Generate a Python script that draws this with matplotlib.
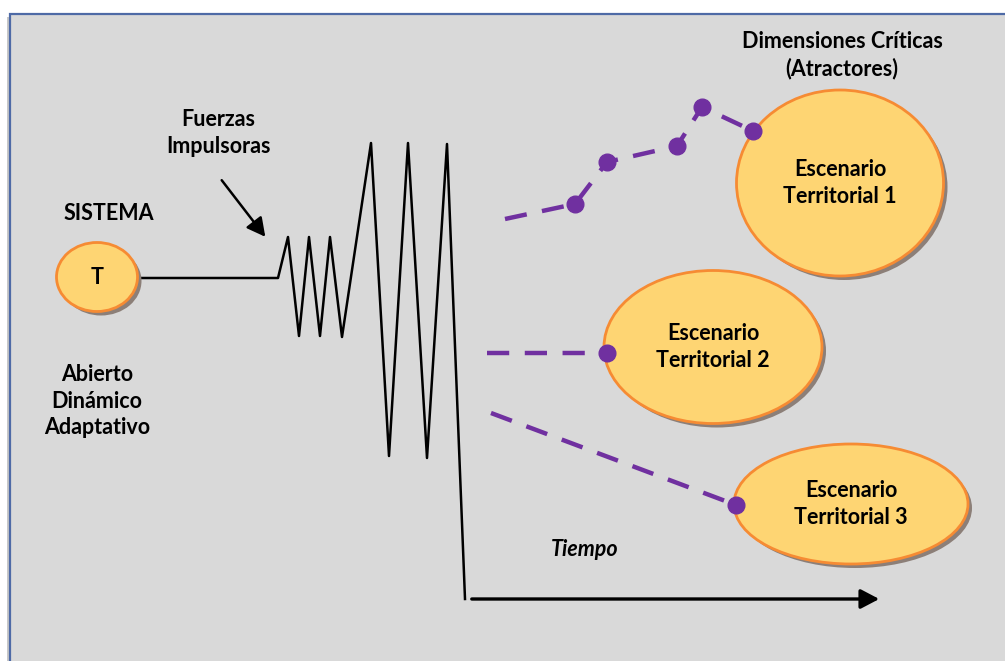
import matplotlib.pyplot as plt
from matplotlib.patches import Ellipse, Rectangle, FancyArrowPatch

plt.rcParams["font.family"] = ["Lato", "DejaVu Sans"]

# --- data (pixel coords of the diagram, y grows downward) ---
W, H = 1005, 661

# zigzag "fuerzas impulsoras" signal
zig_x = [138, 278, 288, 299, 309, 320, 330, 342, 371, 389, 408, 427, 447, 465]
zig_y = [278, 278, 237, 336, 237, 336, 237, 337, 143, 456, 143, 458, 144, 599]

# scenario ellipses: centre x, centre y, width, height, label
esc_cx = [840, 713, 851]
esc_cy = [183, 347, 504]
esc_w = [207, 218, 234]
esc_h = [186, 153, 120]
esc_labels = ["Escenario\nTerritorial 1", "Escenario\nTerritorial 2", "Escenario\nTerritorial 3"]

# purple dashed trajectories towards attractors
tray1_x = [505, 575, 607, 677, 702, 753]
tray1_y = [219, 204, 162, 146, 107, 131]
tray2_x = [487, 607]
tray2_y = [353, 353]
tray3_x = [491, 736]
tray3_y = [413, 505]

purple = "#7030a0"
fill = "#fed573"
edge = "#f68b33"
shadow = "#8c7f78"
FS = 15.5

fig = plt.figure(figsize=(W / 100, H / 100), dpi=100)
ax = fig.add_axes([0, 0, 1, 1])
ax.set_xlim(0, W)
ax.set_ylim(H, 0)
ax.axis("off")

# background panel
ax.add_patch(Rectangle((7, 17), W, H, facecolor="#c8c8c8", edgecolor="none", zorder=0))
ax.add_patch(Rectangle((10, 14), W + 10, H + 10, facecolor="#d9d9d9",
                       edgecolor="#4e6aa6", linewidth=1.6, zorder=1))


def bubble(cx, cy, w, h, label, fs):
    ax.add_patch(Ellipse((cx + 4, cy + 4), w, h, facecolor=shadow, edgecolor="none", zorder=3))
    ax.add_patch(Ellipse((cx, cy), w, h, facecolor=fill, edgecolor=edge, linewidth=2, zorder=4))
    ax.text(cx, cy, label, ha="center", va="center", fontsize=fs,
            fontweight="bold", linespacing=1.35, zorder=5)


# system
bubble(97, 277, 81, 69, "T", FS)
ax.plot(zig_x, zig_y, color="black", linewidth=1.8, zorder=2)

# time axis
ax.add_patch(FancyArrowPatch((469, 599), (882, 599), arrowstyle="-|>,head_length=8,head_width=4.2",
                             mutation_scale=1.4, color="black", linewidth=2.4, zorder=2))
# driving forces arrow
ax.add_patch(FancyArrowPatch((220, 178), (267, 239), arrowstyle="-|>,head_length=8,head_width=4.2",
                             mutation_scale=1.4, color="black", linewidth=1.8, zorder=2))

# scenarios
for cx, cy, w, h, lab in zip(esc_cx, esc_cy, esc_w, esc_h, esc_labels):
    bubble(cx, cy, w, h, lab, FS)

for tx, ty in [(tray1_x, tray1_y), (tray2_x, tray2_y), (tray3_x, tray3_y)]:
    ax.plot(tx, ty, color=purple, linewidth=3.2, dashes=(5, 3.5), zorder=6)
    ax.plot(tx[1:], ty[1:], "o", color=purple, markersize=12, zorder=7)

# labels
txt = dict(ha="center", va="center", fontsize=FS, fontweight="bold", linespacing=1.35, zorder=8)
ax.text(218, 133, "Fuerzas\nImpulsoras", **txt)
ax.text(109, 214, "SISTEMA", **txt)
ax.text(97, 401, "Abierto\nDinámico\nAdaptativo", **txt)
ax.text(842, 55, "Dimensiones Críticas\n(Atractores)", **txt)
ax.text(585, 550, "Tiempo", ha="center", va="center", fontsize=FS,
        fontweight="bold", fontstyle="italic", zorder=8)

fig.savefig("out.png", dpi=100, facecolor="white")
